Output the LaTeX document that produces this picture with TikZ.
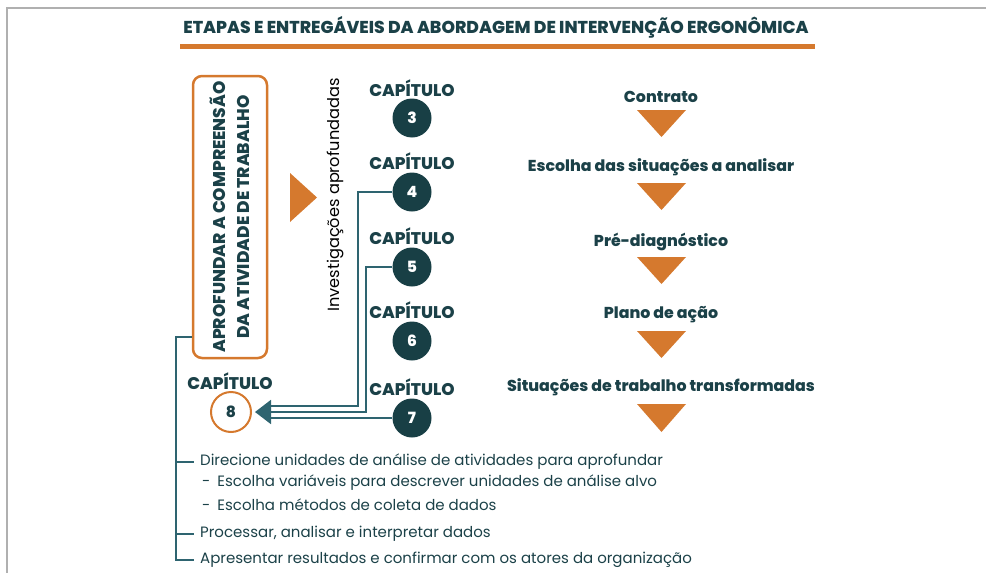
\documentclass[tikz,border=0pt]{standalone}
\usepackage{fontspec}
\setmainfont{Poppins}[BoldFont={Poppins ExtraBold}]
\usetikzlibrary{calc,arrows.meta}
\definecolor{darkt}{HTML}{1B4148}
\definecolor{circ}{HTML}{183F45}
\definecolor{orng}{HTML}{D5792E}
\definecolor{connc}{HTML}{2E6470}
\definecolor{framec}{HTML}{B0B0B0}
\begin{document}
\begin{tikzpicture}[x=1pt,y=-1pt,
  ttl/.style={font=\fontsize{17.2}{18}\selectfont\bfseries, text=darkt, inner sep=0},
  chaplabel/.style={font=\fontsize{16.9}{18}\selectfont\bfseries, text=darkt, inner sep=0},
  chap/.style={circle, fill=circ, minimum size=39, inner sep=0, text=white, font=\fontsize{15.5}{16}\selectfont\bfseries},
  chapo/.style={circle, draw=orng, line width=2, fill=white, minimum size=40, inner sep=0, text=darkt, font=\fontsize{15.5}{16}\selectfont\bfseries},
  stage/.style={font=\fontsize{15.8}{18}\selectfont\bfseries, text=darkt, inner sep=0},
  item/.style={font=\fontsize{15}{16}\selectfont, text=darkt, inner sep=0, anchor=west},
  conn/.style={draw=connc, line width=2},
  tri/.style={fill=orng},
  box/.style={draw=orng, line width=2.5, rounded corners=9, minimum width=74, minimum height=282, inner sep=0}
]
\useasboundingbox (0,0) rectangle (986,573);
% frame
\draw[framec, line width=2] (986,8) -- (7,8) -- (7,573);
% title
\node[ttl] (title) at (496,27) {ETAPAS E ENTREGÁVEIS DA ABORDAGEM DE INTERVENÇÃO ERGONÔMICA};
\fill[orng] (180,44) rectangle (815,49);
% left box
\node[box] (box) at (230,217) {};
\node[rotate=90, align=center, font=\fontsize{17}{24}\selectfont\bfseries, text=darkt, inner sep=0] (boxtxt) at (box.center) {APROFUNDAR A COMPREENSÃO\\DA ATIVIDADE DE TRABALHO};
% right-pointing triangle
\fill[tri] (290,173) -- (317,197.5) -- (290,222) -- cycle;
% investigacoes
\node[rotate=90, font=\fontsize{16.2}{18}\selectfont, text=black, inner sep=0] (inv) at (335,195) {Investigações aprofundadas};
% chapters
\node[chaplabel] (k3) at (412,88) {CAPÍTULO};
\node[chap] (c3) at (412,118) {3};
\node[chaplabel] (k4) at (412,161) {CAPÍTULO};
\node[chap] (c4) at (412,192) {4};
\node[chaplabel] (k5) at (412,236) {CAPÍTULO};
\node[chap] (c5) at (412,267) {5};
\node[chaplabel] (k6) at (412,310) {CAPÍTULO};
\node[chap] (c6) at (412,341) {6};
\node[chaplabel] (k7) at (412,387) {CAPÍTULO};
\node[chap] (c7) at (412,418) {7};
\node[chaplabel] (k8) at (230,381) {CAPÍTULO};
\node[chapo] (c8) at (231,412) {8};
% connectors to chapter 8
\draw[conn] (c4.west) -- (358,192) |- ($(c8.east)+(16,-6)$);
\draw[conn] (c7.west) -- ($(c8.east)+(16,6)$);
\draw[conn, -{Triangle[length=16,width=24]}] (c5.west) -- (366,267) |- ($(c8.east)+(3,0)$);
% stages
\node[stage] (s1) at (661,97) {Contrato};
\fill[tri] (637,110) -- (686,110) -- (661.5,137) -- cycle;
\node[stage] (s2) at (661,167) {Escolha das situações a analisar};
\fill[tri] (637,183) -- (686,183) -- (661.5,210) -- cycle;
\node[stage] (s3) at (661,242) {Pré-diagnóstico};
\fill[tri] (637,257) -- (686,257) -- (661.5,284) -- cycle;
\node[stage] (s4) at (661,315) {Plano de ação};
\fill[tri] (637,331) -- (686,331) -- (661.5,358) -- cycle;
\node[stage] (s5) at (661,387) {Situações de trabalho transformadas};
\fill[tri] (637,404) -- (686,404) -- (661.5,432) -- cycle;
% list
\node[item] (l1) at (200,462) {Direcione unidades de análise de atividades para aprofundar};
\node[item] (l2) at (202,483) {-\hspace{7pt}Escolha variáveis para descrever unidades de análise alvo};
\node[item] (l3) at (202,505) {-\hspace{7pt}Escolha métodos de coleta de dados};
\node[item] (l4) at (200,534) {Processar, analisar e interpretar dados};
\node[item] (l5) at (200,560) {Apresentar resultados e confirmar com os atores da organização};
% bracket
\draw[conn] ($(box.west)+(0,120)$) -- (176,337) |- ([xshift=-6pt]l5.west);
\draw[conn] (176,462) -- ([xshift=-6pt]l1.west);
\draw[conn] (176,534) -- ([xshift=-6pt]l4.west);
\end{tikzpicture}
\end{document}
